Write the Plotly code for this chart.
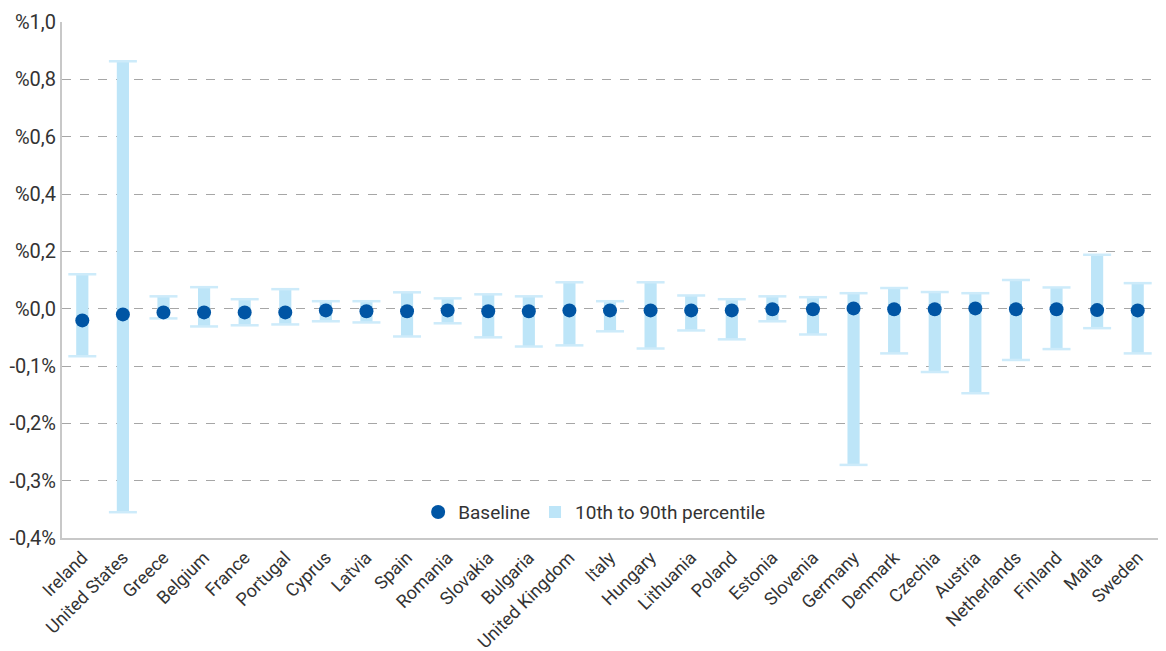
import plotly.graph_objects as go

countries = ["Ireland", "United States", "Greece", "Belgium", "France", "Portugal", "Cyprus",
             "Latvia", "Spain", "Romania", "Slovakia", "Bulgaria", "United Kingdom", "Italy",
             "Hungary", "Lithuania", "Poland", "Estonia", "Slovenia", "Germany", "Denmark",
             "Czechia", "Austria", "Netherlands", "Finland", "Malta", "Sweden"]

# values in axis units (each gridline step = 0.2 units)
baseline = [-0.041, -0.020, -0.013, -0.013, -0.013, -0.013, -0.006, -0.009, -0.009, -0.006,
            -0.009, -0.009, -0.006, -0.006, -0.006, -0.006, -0.006, -0.002, -0.002, 0.001,
            -0.002, -0.002, 0.001, -0.002, -0.002, -0.005, -0.006]
p90 = [0.120, 0.863, 0.043, 0.075, 0.033, 0.068, 0.026, 0.026, 0.057, 0.036, 0.050, 0.043,
       0.092, 0.026, 0.092, 0.046, 0.033, 0.043, 0.040, 0.054, 0.072, 0.058, 0.054, 0.100,
       0.074, 0.188, 0.089]
p10 = [-0.166, -0.710, -0.034, -0.062, -0.058, -0.055, -0.044, -0.048, -0.097, -0.051, -0.100,
       -0.132, -0.128, -0.079, -0.139, -0.076, -0.107, -0.044, -0.090, -0.545, -0.156, -0.221,
       -0.295, -0.179, -0.141, -0.068, -0.156]

tick_vals = [1.0, 0.8, 0.6, 0.4, 0.2, 0.0, -0.2, -0.4, -0.6, -0.8]
tick_text = ["%1,0", "%0,8", "%0,6", "%0,4", "%0,2", "%0,0", "-0,1%", "-0,2%", "-0,3%", "-0,4%"]

band_color = "#BDE5F8"
dot_color = "#0055A4"
font_family = "Roboto, Arial, sans-serif"

fig = go.Figure()

spans = [h - l for h, l in zip(p90, p10)]
fig.add_trace(go.Bar(
    x=countries, y=spans, base=p10, width=0.3,
    marker=dict(color=band_color, line=dict(width=0)),
    name="10th to 90th percentile", showlegend=True,
))
fig.add_trace(go.Scatter(
    x=countries + countries, y=p90 + p10, mode="markers",
    marker=dict(symbol="line-ew", size=20, line=dict(color="#CDEBFA", width=2.5)),
    showlegend=False, hoverinfo="skip",
))
fig.add_trace(go.Scatter(
    x=countries, y=baseline, mode="markers",
    marker=dict(symbol="circle", size=14, color=dot_color),
    name="Baseline",
))

fig.update_layout(
    width=1166, height=651,
    margin=dict(l=62, r=8, t=22, b=113, autoexpand=False),
    plot_bgcolor="white", paper_bgcolor="white",
    font=dict(family=font_family, size=18, color="#333333"),
    showlegend=True,
    legend=dict(orientation="h", x=0.486, y=0.05, xanchor="center", yanchor="middle",
                font=dict(size=19, color="#333333"), traceorder="reversed",
                itemwidth=30, bgcolor="rgba(0,0,0,0)"),
    bargap=0.7,
)
fig.update_xaxes(
    type="category", range=[-0.5, len(countries) - 0.5],
    tickangle=-45, showgrid=False, ticks="", automargin=False,
    showline=True, linecolor="#C8C8C8", linewidth=2,
    tickfont=dict(size=18, color="#333333"),
)
fig.update_yaxes(
    range=[-0.8, 1.0], tickvals=tick_vals, ticktext=tick_text, automargin=False,
    showgrid=True, gridcolor="#A6A6A6", griddash="dash", gridwidth=1,
    zeroline=False, showline=True, linecolor="#C8C8C8", linewidth=2,
    ticks="", tickfont=dict(size=20, color="#333333"),
)

fig.write_html("out.html", config={"displayModeBar": False},
               post_script="document.body.style.margin='0';")
